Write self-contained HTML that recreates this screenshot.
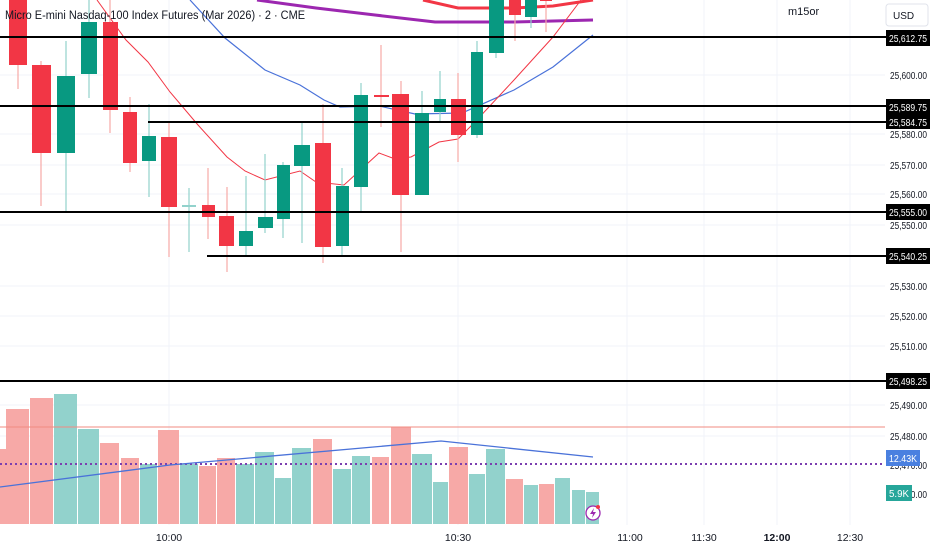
<!DOCTYPE html>
<html><head><meta charset="utf-8"><style>
html,body{margin:0;padding:0;background:#fff;width:932px;height:550px;overflow:hidden}
svg{display:block;font-family:"Liberation Sans",sans-serif}
</style></head><body>
<svg width="932" height="550" viewBox="0 0 932 550" xmlns="http://www.w3.org/2000/svg">
<rect width="932" height="550" fill="#fff"/>
<g stroke="#f0f3fa" stroke-width="1">
<line x1="169" y1="0" x2="169" y2="525"/><line x1="458" y1="0" x2="458" y2="525"/>
<line x1="627" y1="0" x2="627" y2="525"/><line x1="704" y1="0" x2="704" y2="525"/>
<line x1="777" y1="0" x2="777" y2="525"/><line x1="850" y1="0" x2="850" y2="525"/>
<line x1="0" y1="75" x2="885" y2="75"/><line x1="0" y1="134" x2="885" y2="134"/>
<line x1="0" y1="165" x2="885" y2="165"/><line x1="0" y1="194" x2="885" y2="194"/>
<line x1="0" y1="225" x2="885" y2="225"/><line x1="0" y1="286" x2="885" y2="286"/>
<line x1="0" y1="316" x2="885" y2="316"/><line x1="0" y1="346" x2="885" y2="346"/>
<line x1="0" y1="405" x2="885" y2="405"/><line x1="0" y1="436" x2="885" y2="436"/>
</g>
<g>
<rect x="0" y="449" width="12" height="75" fill="#f7a9a7"/>
<rect x="6" y="409" width="23" height="115" fill="#f7a9a7"/>
<rect x="30" y="398" width="23" height="126" fill="#f7a9a7"/>
<rect x="54" y="394" width="23" height="130" fill="#92d2cc"/>
<rect x="78" y="429" width="21" height="95" fill="#92d2cc"/>
<rect x="100" y="443" width="19" height="81" fill="#f7a9a7"/>
<rect x="121" y="458" width="18" height="66" fill="#f7a9a7"/>
<rect x="140" y="464" width="17" height="60" fill="#92d2cc"/>
<rect x="158" y="430" width="21" height="94" fill="#f7a9a7"/>
<rect x="180" y="464" width="18" height="60" fill="#92d2cc"/>
<rect x="199" y="466" width="17" height="58" fill="#f7a9a7"/>
<rect x="217" y="458" width="18" height="66" fill="#f7a9a7"/>
<rect x="236" y="464" width="18" height="60" fill="#92d2cc"/>
<rect x="255" y="452" width="19" height="72" fill="#92d2cc"/>
<rect x="275" y="478" width="16" height="46" fill="#92d2cc"/>
<rect x="292" y="448" width="19" height="76" fill="#92d2cc"/>
<rect x="313" y="439" width="19" height="85" fill="#f7a9a7"/>
<rect x="333" y="469" width="18" height="55" fill="#92d2cc"/>
<rect x="352" y="456" width="18" height="68" fill="#92d2cc"/>
<rect x="372" y="457" width="17" height="67" fill="#f7a9a7"/>
<rect x="391" y="427" width="20" height="97" fill="#f7a9a7"/>
<rect x="412" y="454" width="20" height="70" fill="#92d2cc"/>
<rect x="433" y="482" width="15" height="42" fill="#92d2cc"/>
<rect x="449" y="447" width="19" height="77" fill="#f7a9a7"/>
<rect x="469" y="474" width="16" height="50" fill="#92d2cc"/>
<rect x="486" y="449" width="19" height="75" fill="#92d2cc"/>
<rect x="506" y="479" width="17" height="45" fill="#f7a9a7"/>
<rect x="524" y="485" width="14" height="39" fill="#92d2cc"/>
<rect x="539" y="484" width="15" height="40" fill="#f7a9a7"/>
<rect x="555" y="478" width="15" height="46" fill="#92d2cc"/>
<rect x="572" y="490" width="13" height="34" fill="#92d2cc"/>
<rect x="586" y="492" width="13" height="32" fill="#92d2cc"/>
</g>
<line x1="0" y1="427" x2="885" y2="427" stroke="#f28b82" stroke-width="1"/>
<line x1="0" y1="464" x2="885" y2="464" stroke="#7b3fb0" stroke-width="2" stroke-dasharray="2,3"/>
<polyline points="0,487 170,465 441,441 593,457" fill="none" stroke="#4a72d9" stroke-width="1.3"/>
<polyline points="423,0 458,8 514,8 553,6 593,0" fill="none" stroke="#f23645" stroke-width="3"/>
<polyline points="257,0 316,8 375,15 435,22 514,22 593,20" fill="none" stroke="#9c27b0" stroke-width="3"/>
<polyline points="190,0 225,38 265,70 300,85 324,100 340,107 379,106 415,114 462,113 514,90 553,67 593,35" fill="none" stroke="#4a72d9" stroke-width="1.2"/>
<polyline points="97,0 126,40 148,62 170,92 198,125 227,157 245,171 265,180 300,171 316,182 344,185 379,153 395,159 411,157 439,142 458,139 474,123 514,80 553,37 581,0" fill="none" stroke="#f23645" stroke-width="1"/>
<g stroke-width="1.2">
<g stroke="#f7a9a7"><line x1="18" y1="0" x2="18" y2="89"/><line x1="41" y1="61" x2="41" y2="206"/><line x1="110" y1="0" x2="110" y2="133"/><line x1="130" y1="97" x2="130" y2="172"/><line x1="169" y1="123" x2="169" y2="257"/><line x1="208" y1="168" x2="208" y2="239"/><line x1="227" y1="187" x2="227" y2="272"/><line x1="323" y1="104" x2="323" y2="263"/><line x1="381" y1="45" x2="381" y2="127"/><line x1="401" y1="81" x2="401" y2="252"/><line x1="458" y1="73" x2="458" y2="162"/><line x1="515" y1="0" x2="515" y2="41"/><line x1="546" y1="0" x2="546" y2="32"/></g>
<g stroke="#92d2cc"><line x1="66" y1="41" x2="66" y2="212"/><line x1="89" y1="0" x2="89" y2="98"/><line x1="149" y1="104" x2="149" y2="197"/><line x1="189" y1="188" x2="189" y2="252"/><line x1="246" y1="176" x2="246" y2="255"/><line x1="265" y1="154" x2="265" y2="233"/><line x1="283" y1="162" x2="283" y2="238"/><line x1="302" y1="122" x2="302" y2="243"/><line x1="342" y1="168" x2="342" y2="255"/><line x1="361" y1="83" x2="361" y2="211"/><line x1="422" y1="91" x2="422" y2="195"/><line x1="440" y1="71" x2="440" y2="121"/><line x1="477" y1="41" x2="477" y2="138"/><line x1="496" y1="0" x2="496" y2="58"/><line x1="531" y1="0" x2="531" y2="28"/></g>
</g>
<g fill="#f23645">
<rect x="9" y="0" width="18" height="65"/><rect x="32" y="65" width="19" height="88"/><rect x="103" y="22" width="15" height="88"/><rect x="123" y="112" width="14" height="51"/><rect x="161" y="137" width="16" height="70"/><rect x="202" y="205" width="13" height="12"/><rect x="219" y="216" width="15" height="30"/><rect x="315" y="143" width="16" height="104"/><rect x="374" y="95" width="15" height="2"/><rect x="392" y="94" width="17" height="101"/><rect x="451" y="99" width="15" height="36"/><rect x="509" y="0" width="12" height="15"/><rect x="540" y="0" width="12" height="1"/>
</g>
<g fill="#089981">
<rect x="57" y="76" width="18" height="77"/><rect x="81" y="22" width="16" height="52"/><rect x="142" y="136" width="14" height="25"/><rect x="182" y="205" width="14" height="2" fill="#92d2cc"/><rect x="239" y="231" width="14" height="15"/><rect x="258" y="217" width="15" height="11"/><rect x="277" y="165" width="13" height="54"/><rect x="294" y="145" width="16" height="21"/><rect x="336" y="186" width="13" height="60"/><rect x="354" y="95" width="14" height="92"/><rect x="415" y="113" width="14" height="82"/><rect x="434" y="99" width="12" height="13"/><rect x="471" y="52" width="12" height="83"/><rect x="489" y="0" width="15" height="53"/><rect x="525" y="0" width="12" height="17"/>
</g>
<g stroke="#000" stroke-width="2">
<line x1="0" y1="37" x2="888" y2="37"/><line x1="0" y1="106" x2="888" y2="106"/>
<line x1="148" y1="122" x2="888" y2="122"/><line x1="0" y1="212" x2="888" y2="212"/>
<line x1="207" y1="256" x2="888" y2="256"/><line x1="0" y1="381" x2="888" y2="381"/>
</g>
<text x="5" y="19" font-size="11.5" fill="#131722" textLength="300" lengthAdjust="spacingAndGlyphs">Micro E-mini Nasdaq-100 Index Futures (Mar 2026) · 2 · CME</text>
<text x="788" y="15" font-size="11" fill="#131722">m15or</text>
<rect x="886" y="4" width="42" height="22" rx="3" fill="#fff" stroke="#e0e3eb"/>
<text x="893" y="19" font-size="10" fill="#131722">USD</text>
<g font-size="10" fill="#131722">
<text x="890" y="79" textLength="37" lengthAdjust="spacingAndGlyphs">25,600.00</text><text x="890" y="138" textLength="37" lengthAdjust="spacingAndGlyphs">25,580.00</text><text x="890" y="169" textLength="37" lengthAdjust="spacingAndGlyphs">25,570.00</text><text x="890" y="198" textLength="37" lengthAdjust="spacingAndGlyphs">25,560.00</text><text x="890" y="229" textLength="37" lengthAdjust="spacingAndGlyphs">25,550.00</text><text x="890" y="290" textLength="37" lengthAdjust="spacingAndGlyphs">25,530.00</text><text x="890" y="320" textLength="37" lengthAdjust="spacingAndGlyphs">25,520.00</text><text x="890" y="350" textLength="37" lengthAdjust="spacingAndGlyphs">25,510.00</text><text x="890" y="409" textLength="37" lengthAdjust="spacingAndGlyphs">25,490.00</text><text x="890" y="440" textLength="37" lengthAdjust="spacingAndGlyphs">25,480.00</text><text x="890" y="469" textLength="37" lengthAdjust="spacingAndGlyphs">25,470.00</text><text x="890" y="498" textLength="37" lengthAdjust="spacingAndGlyphs">25,460.00</text>
</g>
<g font-size="10">
<rect x="886" y="30" width="44" height="16" fill="#000"/><text x="889" y="42" fill="#fff" textLength="38" lengthAdjust="spacingAndGlyphs">25,612.75</text>
<rect x="886" y="99" width="44" height="15" fill="#000"/><text x="889" y="111" fill="#fff" textLength="38" lengthAdjust="spacingAndGlyphs">25,589.75</text>
<rect x="886" y="114" width="44" height="15" fill="#000"/><text x="889" y="126" fill="#fff" textLength="38" lengthAdjust="spacingAndGlyphs">25,584.75</text>
<rect x="886" y="204" width="44" height="16" fill="#000"/><text x="889" y="216" fill="#fff" textLength="38" lengthAdjust="spacingAndGlyphs">25,555.00</text>
<rect x="886" y="248" width="44" height="16" fill="#000"/><text x="889" y="260" fill="#fff" textLength="38" lengthAdjust="spacingAndGlyphs">25,540.25</text>
<rect x="886" y="373" width="44" height="16" fill="#000"/><text x="889" y="385" fill="#fff" textLength="38" lengthAdjust="spacingAndGlyphs">25,498.25</text>
<rect x="886" y="450" width="34" height="16" fill="#4a80e0"/><text x="889" y="462" fill="#fff" textLength="28" lengthAdjust="spacingAndGlyphs">12.43K</text>
<rect x="886" y="485" width="26" height="16" fill="#26a69a"/><text x="889" y="497" fill="#fff" textLength="20" lengthAdjust="spacingAndGlyphs">5.9K</text>
</g>
<g font-size="10.5" fill="#131722" text-anchor="middle">
<text x="169" y="541">10:00</text><text x="458" y="541">10:30</text><text x="630" y="541">11:00</text><text x="704" y="541">11:30</text><text x="777" y="541" font-weight="bold">12:00</text><text x="850" y="541">12:30</text>
</g>
<circle cx="593" cy="513" r="7" fill="#fff" stroke="#9c27b0" stroke-width="1.3"/>
<path d="M594 508 L590 514 L593 514 L592 518 L596 512 L593 512 Z" fill="#9c27b0"/>
<circle cx="598" cy="507" r="2" fill="#f23645"/>
</svg>
</body></html>
